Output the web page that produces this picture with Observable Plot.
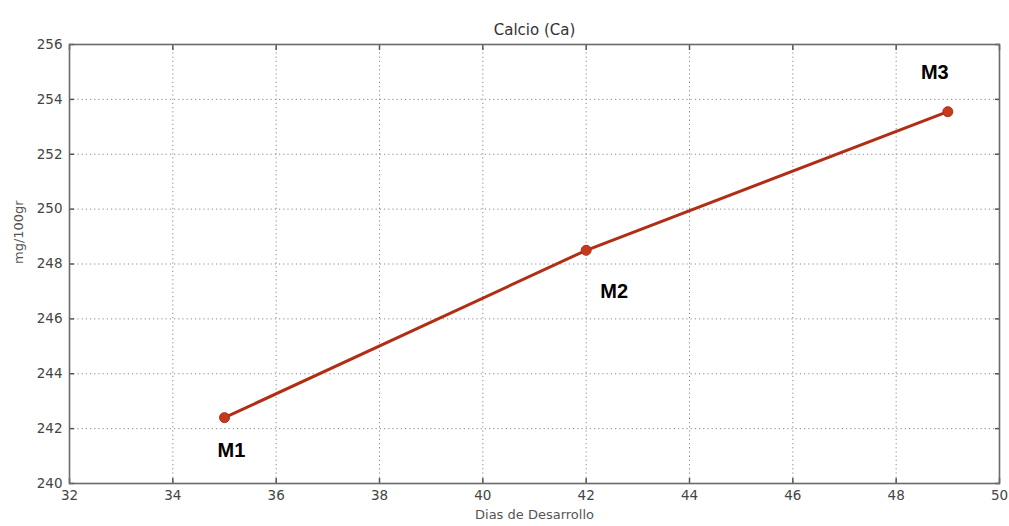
<!DOCTYPE html>
<html>
<head>
<meta charset="utf-8">
<script src="https://cdn.jsdelivr.net/npm/d3@7"></script>
<script src="https://cdn.jsdelivr.net/npm/@observablehq/plot@0.6"></script>
<style>
  html, body { margin: 0; padding: 0; background: #fff; }
  #chart svg { display: block; }
</style>
</head>
<body>
<div id="chart"></div>
<script>
const days = [35, 42, 49];
const calcium = [242.4, 248.5, 253.55];
const sampleNames = ["M1", "M2", "M3"];
const xTicks = [32, 34, 36, 38, 40, 42, 44, 46, 48, 50];
const yTicks = [240, 242, 244, 246, 248, 250, 252, 254, 256];
const titleText = "Calcio (Ca)";
const xLabelText = "Dias de Desarrollo";
const yLabelText = "mg/100gr";

const data = days.map((d, i) => ({day: d, value: calcium[i], name: sampleNames[i]}));
const labelOffsets = {M1: [7, 33], M2: [28, 41], M3: [-13, -39]};

const tickFont = "DejaVu Sans, sans-serif";
const gridStyle = {stroke: "#8a8a8a", strokeOpacity: 1, strokeWidth: 1, strokeDasharray: "1.2,3"};

const plot = Plot.plot({
  width: 1009,
  height: 526,
  marginLeft: 69,
  marginRight: 10,
  marginTop: 44,
  marginBottom: 43,
  style: {fontFamily: tickFont, background: "#fff", overflow: "visible"},
  x: {domain: [32, 50], ticks: xTicks},
  y: {domain: [240, 256], ticks: yTicks},
  marks: [
    Plot.gridX(xTicks, gridStyle),
    Plot.gridY(yTicks, gridStyle),
    Plot.axisX(xTicks, {anchor: "bottom", tickSize: -5, tickPadding: 12, fontSize: 13.5, fill: "#444", stroke: "#555", strokeWidth: 1.5, label: null}),
    Plot.axisX(xTicks, {anchor: "top", tickSize: -5, tickFormat: () => "", stroke: "#555", strokeWidth: 1.5, label: null}),
    Plot.axisY(yTicks, {anchor: "left", tickSize: -5, tickPadding: 12, fontSize: 13.5, fill: "#444", stroke: "#555", strokeWidth: 1.5, label: null}),
    Plot.axisY(yTicks, {anchor: "right", tickSize: -5, tickFormat: () => "", stroke: "#555", strokeWidth: 1.5, label: null}),
    Plot.frame({stroke: "#6a6a6a", strokeWidth: 1.6}),
    Plot.line(data, {x: "day", y: "value", stroke: "#b02e14", strokeWidth: 3}),
    Plot.dot(data, {x: "day", y: "value", r: 5, fill: "#c63a1c", stroke: "#b02e14", strokeWidth: 1}),
    ...data.map(d => Plot.text([d], {
      x: "day", y: "value", text: "name",
      dx: labelOffsets[d.name][0], dy: labelOffsets[d.name][1],
      fontSize: 20, fontWeight: "bold", fontFamily: "Liberation Sans, Arial, sans-serif", fill: "#000"
    })),
    Plot.text([titleText], {frameAnchor: "top", dy: -20, fontSize: 15, fill: "#333"}),
    Plot.text([xLabelText], {frameAnchor: "bottom", dy: 35, fontSize: 13, fill: "#555"}),
    Plot.text([yLabelText], {frameAnchor: "left", dx: -51, rotate: -90, fontSize: 13, fill: "#555"})
  ]
});
document.getElementById("chart").appendChild(plot);
</script>
</body>
</html>
